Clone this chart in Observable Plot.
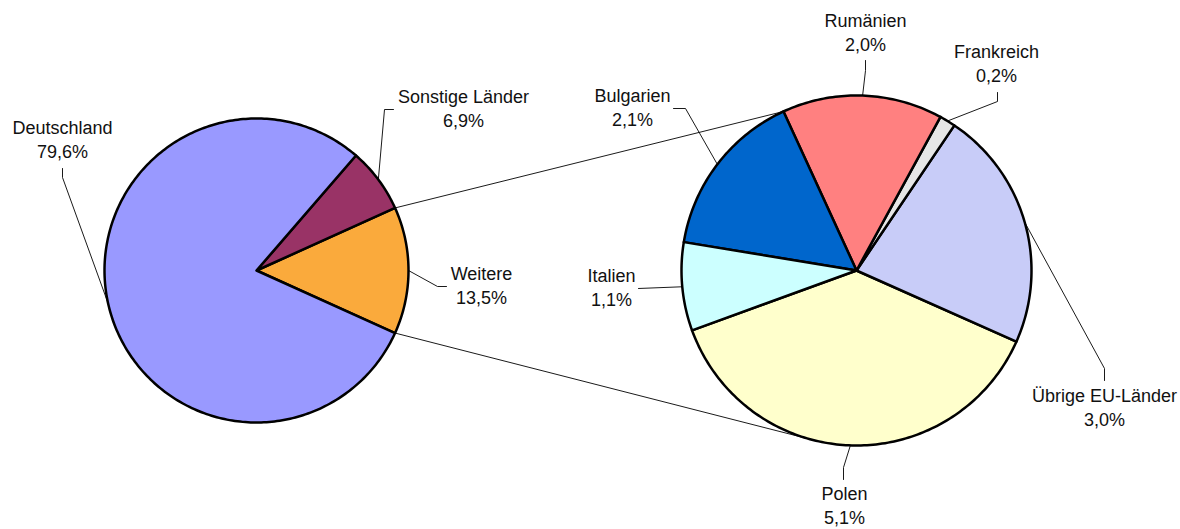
<!DOCTYPE html>
<html>
<head>
<meta charset="utf-8">
<script src="https://cdn.jsdelivr.net/npm/d3@7"></script>
<script src="https://cdn.jsdelivr.net/npm/@observablehq/plot@0.6"></script>
<style>
  html, body { margin: 0; padding: 0; background: #fff; }
</style>
</head>
<body>
<div id="chart"></div>
<script>
// ---- Data ----
const leftNames = ["Weitere", "Sonstige Länder", "Deutschland"];
const leftValues = [13.5, 6.9, 79.6];
const rightNames = ["Polen", "Übrige EU-Länder", "Frankreich", "Rumänien", "Bulgarien", "Italien"];
const rightValues = [5.1, 3.0, 0.2, 2.0, 2.1, 1.1];

// ---- Styles ----
const leftColors = ["#FAAA3C", "#993366", "#9999FF"];
const rightColors = ["#FFFFCC", "#C8CCF8", "#E6E6E6", "#FF8080", "#0066CC", "#CCFFFF"];

// ---- Layout ----
const W = 1180, H = 529;
const L = {cx: 256, cy: 270, r: 152, start: -leftValues[0] / 2 / 100 * 360};
const R = {cx: 856, cy: 270, r: 175, start: 200};
// label anchors and label-side leader points (annotation layout)
const labelLayout = {
  "Deutschland":      {x: 62,   y: 138, lead: [[62, 168], [62, 177]]},
  "Sonstige Länder":  {x: 463,  y: 107, lead: [[393, 109], [384, 109]]},
  "Weitere":          {x: 481,  y: 284, lead: [[446, 286], [437, 286]]},
  "Bulgarien":        {x: 632,  y: 106, lead: [[673, 108], [685, 108]]},
  "Italien":          {x: 611,  y: 286, lead: [[638, 288]]},
  "Rumänien":         {x: 865,  y: 31,  lead: [[865, 60], [865, 70]]},
  "Frankreich":       {x: 996,  y: 62,  lead: [[997, 92], [997, 101]]},
  "Übrige EU-Länder": {x: 1104, y: 406, lead: [[1104, 380], [1104, 368]]},
  "Polen":            {x: 844,  y: 504, lead: [[843, 479], [843, 467]]}
};
const connectorAngles = {top: 114.67, bottom: 256};

const fmt = v => v.toFixed(1).replace(".", ",") + "%";
const pt = (P, deg, rr = P.r) => {
  const a = deg * Math.PI / 180;
  return {x: P.cx + rr * Math.cos(a), y: P.cy - rr * Math.sin(a)};
};

function slices(P, names, values, colors) {
  const total = d3.sum(values);
  let a0 = P.start;
  return names.map((name, i) => {
    const span = values[i] / total * 360;
    const a1 = a0 + span;
    const pts = [{x: P.cx, y: P.cy}];
    const n = Math.max(4, Math.ceil(span));
    for (let k = 0; k <= n; k++) pts.push(pt(P, a0 + span * k / n));
    pts.push({x: P.cx, y: P.cy});
    const s = {name, value: values[i], color: colors[i], a0, a1, mid: (a0 + a1) / 2, pts, P};
    a0 = a1;
    return s;
  });
}

const leftSlices = slices(L, leftNames, leftValues, leftColors);
const rightSlices = slices(R, rightNames, rightValues, rightColors);
const all = leftSlices.concat(rightSlices);

// leader lines
const leaders = [];
all.forEach(s => {
  const lay = labelLayout[s.name];
  const e = pt(s.P, s.mid);
  lay.lead.forEach(p => leaders.push({name: s.name, x: p[0], y: p[1]}));
  leaders.push({name: s.name, x: e.x, y: e.y});
});

// connector lines between pies (from edges of the "Weitere" slice)
const w = leftSlices[0];
const c1a = pt(L, w.a1), c1b = pt(R, connectorAngles.top);
const c2a = pt(L, w.a0), c2b = pt(R, connectorAngles.bottom);
const connectors = [
  {k: "top", ...c1a}, {k: "top", ...c1b},
  {k: "bottom", ...c2a}, {k: "bottom", ...c2b}
];

const labels = all.map(s => ({
  text: s.name + "\n" + fmt(s.value),
  x: labelLayout[s.name].x,
  y: labelLayout[s.name].y
}));

const marks = [];
all.forEach(s => {
  marks.push(Plot.line(s.pts, {x: "x", y: "y", fill: s.color, stroke: "#000", strokeWidth: 2.5, strokeLinejoin: "round", curve: "linear"}));
});
marks.push(Plot.line(leaders, {x: "x", y: "y", z: "name", stroke: "#000", strokeWidth: 0.9}));
marks.push(Plot.line(connectors, {x: "x", y: "y", z: "k", stroke: "#000", strokeWidth: 0.9}));
marks.push(Plot.text(labels, {x: "x", y: "y", text: "text", fill: "#111", fontSize: 18, lineHeight: 1.32, textAnchor: "middle", lineAnchor: "middle"}));

const chart = Plot.plot({
  width: W,
  height: H,
  margin: 0,
  style: {fontFamily: "'Liberation Sans', Arial, sans-serif", background: "#fff"},
  x: {domain: [0, W], range: [0, W], axis: null},
  y: {domain: [0, H], range: [0, H], axis: null},
  marks
});
document.getElementById("chart").appendChild(chart);
</script>
</body>
</html>
